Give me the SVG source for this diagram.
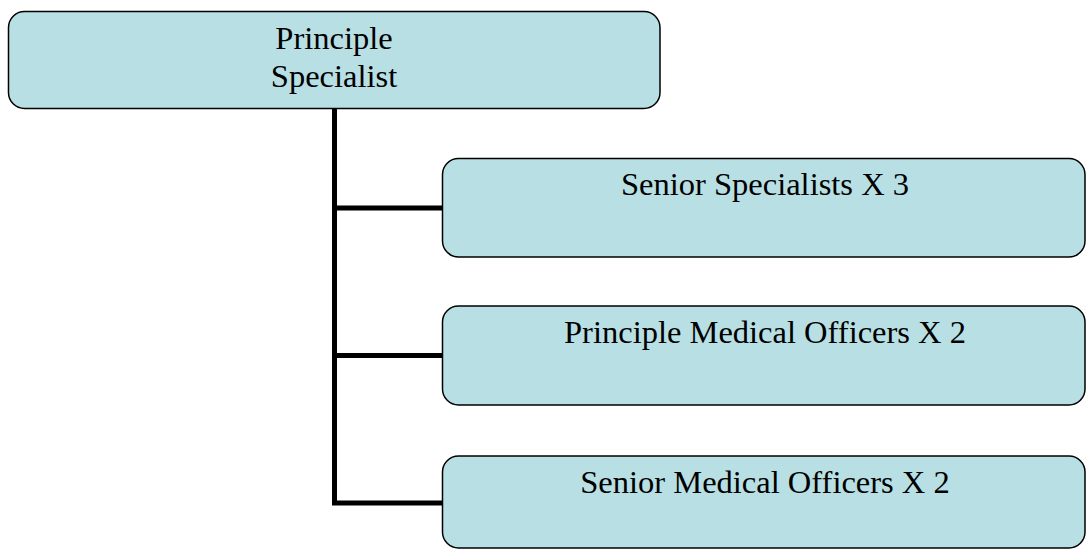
<svg xmlns="http://www.w3.org/2000/svg" width="1086" height="550" viewBox="0 0 1086 550">
<style>
.box{fill:#b8dfe3;stroke:#000;stroke-width:1.5}
.lbl{font-family:"Liberation Serif","Times New Roman",serif;font-size:32.5px;fill:#000;text-anchor:middle}
.conn{fill:none;stroke:#000;stroke-width:5}
</style>
<rect width="1086" height="550" fill="#fff"/>
<g id="connectors">
<path class="conn" d="M334.5 108 V503 H443"/>
<path class="conn" d="M334.5 208 H443"/>
<path class="conn" d="M334.5 355.5 H443"/>
</g>
<g id="principle-specialist">
<rect class="box" x="8.5" y="11.5" width="651.5" height="97" rx="16"/>
<text class="lbl" x="334" y="48.5">Principle</text>
<text class="lbl" x="334" y="87">Specialist</text>
</g>
<g id="senior-specialists">
<rect class="box" x="442.5" y="158.5" width="642.5" height="98.5" rx="16"/>
<text class="lbl" x="765" y="195">Senior Specialists X 3</text>
</g>
<g id="principle-medical-officers">
<rect class="box" x="442.5" y="306" width="642.5" height="99" rx="16"/>
<text class="lbl" x="765" y="342.5">Principle Medical Officers X 2</text>
</g>
<g id="senior-medical-officers">
<rect class="box" x="442.5" y="456" width="642.5" height="92" rx="16"/>
<text class="lbl" x="765" y="492.5">Senior Medical Officers X 2</text>
</g>
</svg>
